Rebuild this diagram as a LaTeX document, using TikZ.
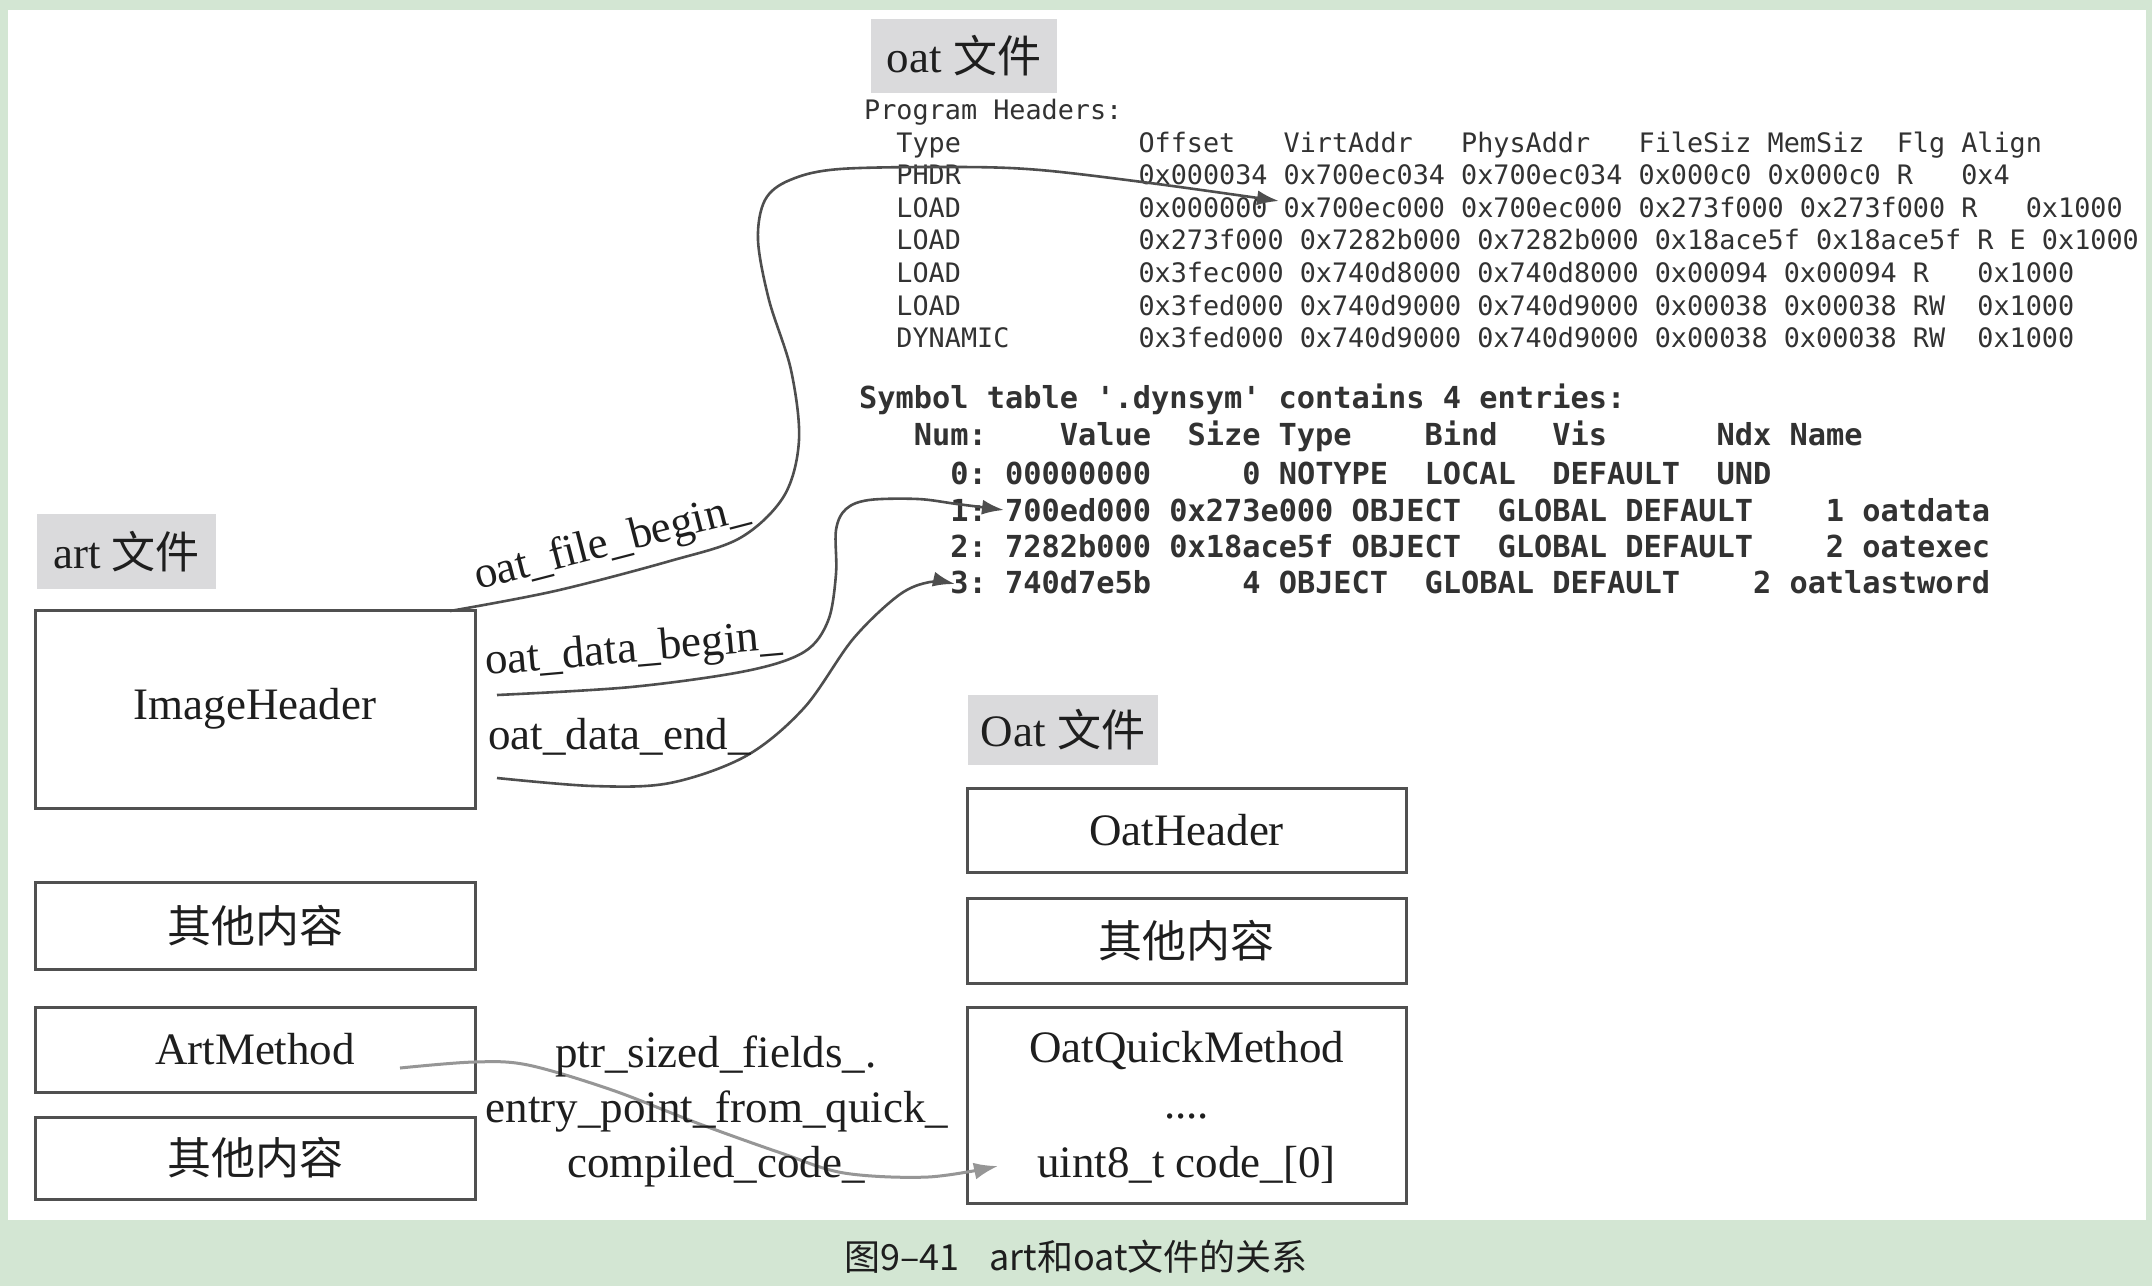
\documentclass[tikz,border=0pt]{standalone}
\usepackage{fontspec}
\setmainfont{Liberation Serif}
\setmonofont{DejaVu Sans Mono}
\newfontfamily\cjk{Noto Sans CJK SC}
\usetikzlibrary{arrows.meta}
\definecolor{bggreen}{RGB}{211,230,211}
\definecolor{lblgray}{RGB}{218,218,220}
\definecolor{boxc}{RGB}{80,80,80}
\definecolor{curvec}{RGB}{78,78,78}
\definecolor{lcurvec}{RGB}{150,150,150}
\definecolor{txtc}{RGB}{30,30,30}
\definecolor{monoc}{RGB}{50,50,50}
\newcommand\lblfont{\fontsize{45}{54}\selectfont}
\tikzset{
  box/.style={draw=boxc, line width=3pt, inner sep=0pt, fill=white, text=txtc, font=\lblfont},
  glbl/.style={fill=lblgray, inner sep=0pt, text=txtc, font=\lblfont},
  lbl/.style={inner sep=0pt, text=txtc, font=\lblfont},
  conn/.style={draw=curvec, line width=2.6pt, -{Latex[length=22pt,width=15pt]}},
  lconn/.style={draw=lcurvec, line width=3pt, -{Latex[length=24pt,width=17pt]}},
  monoA/.style={anchor=base west, inner sep=0pt, text=monoc, font=\ttfamily\fontsize{26.8}{30}\selectfont},
  monoB/.style={anchor=base west, inner sep=0pt, text=monoc, font=\ttfamily\bfseries\fontsize{30.3}{34}\selectfont},
}
\begin{document}
\begin{tikzpicture}[x=1pt,y=-1pt]
% background
\fill[bggreen] (0,0) rectangle (2152,1286);
\fill[white] (8,10) rectangle (2146,1220);

% gray labels
\node[glbl, minimum width=179pt, minimum height=75pt] (artlbl) at (126.5,551.5) {art {\cjk\fontsize{44}{50}\selectfont 文件}};
\node[glbl, minimum width=186pt, minimum height=74pt] (oatlbl) at (964,56) {oat {\cjk\fontsize{44}{50}\selectfont 文件}};
\node[glbl, minimum width=190pt, minimum height=70pt] (Oatlbl) at (1063,730) {Oat {\cjk\fontsize{44}{50}\selectfont 文件}};

% left boxes
\node[box, minimum width=440pt, minimum height=198pt] (ih) at (255,709) {ImageHeader};
\node[box, minimum width=440pt, minimum height=87pt] (other1) at (255,925.5) {\cjk\fontsize{44}{50}\selectfont 其他内容};
\node[box, minimum width=440pt, minimum height=85pt] (am) at (255,1049.5) {ArtMethod};
\node[box, minimum width=440pt, minimum height=82pt] (other2) at (255,1158) {\cjk\fontsize{44}{50}\selectfont 其他内容};

% right boxes
\node[box, minimum width=439pt, minimum height=84pt] (oh) at (1186.5,830) {OatHeader};
\node[box, minimum width=439pt, minimum height=85pt] (other3) at (1186.5,940.5) {\cjk\fontsize{44}{50}\selectfont 其他内容};
\node[box, minimum width=439pt, minimum height=196pt] (oqm) at (1186.5,1105) {};
\node[lbl, anchor=base] (oqmt) at (1186.5,1062) {OatQuickMethod};
\node[lbl, anchor=base] (oqmd) at (1186.5,1118) {....};
\node[lbl, anchor=base] (oqmc) at (1186.5,1177) {uint8\_t code\_[0]};

% program headers
\node[monoA] (ph0) at (864,119.5) {Program~Headers:};
\node[monoA] (ph1) at (864,152.1) {~~Type~~~~~~~~~~~Offset~~~VirtAddr~~~PhysAddr~~~FileSiz~MemSiz~~Flg~Align};
\node[monoA] (ph2) at (864,184.7) {~~PHDR~~~~~~~~~~~0x000034~0x700ec034~0x700ec034~0x000c0~0x000c0~R~~~0x4};
\node[monoA] (ph3) at (864,217.3) {~~LOAD~~~~~~~~~~~0x000000~0x700ec000~0x700ec000~0x273f000~0x273f000~R~~~0x1000};
\node[monoA] (ph4) at (864,249.9) {~~LOAD~~~~~~~~~~~0x273f000~0x7282b000~0x7282b000~0x18ace5f~0x18ace5f~R~E~0x1000};
\node[monoA] (ph5) at (864,282.5) {~~LOAD~~~~~~~~~~~0x3fec000~0x740d8000~0x740d8000~0x00094~0x00094~R~~~0x1000};
\node[monoA] (ph6) at (864,315.1) {~~LOAD~~~~~~~~~~~0x3fed000~0x740d9000~0x740d9000~0x00038~0x00038~RW~~0x1000};
\node[monoA] (ph7) at (864,347.7) {~~DYNAMIC~~~~~~~~0x3fed000~0x740d9000~0x740d9000~0x00038~0x00038~RW~~0x1000};

% symbol table
\node[monoB] (s0) at (859,408) {Symbol~table~'.dynsym'~contains~4~entries:};
\node[monoB] (s1) at (859,445) {~~~Num:~~~~Value~~Size~Type~~~~Bind~~~Vis~~~~~~Ndx~Name};
\node[monoB] (s2) at (859,484) {~~~~~0:~00000000~~~~~0~NOTYPE~~LOCAL~~DEFAULT~~UND};
\node[monoB] (s3) at (859,521) {~~~~~1:~700ed000~0x273e000~OBJECT~~GLOBAL~DEFAULT~~~~1~oatdata};
\node[monoB] (s4) at (859,557) {~~~~~2:~7282b000~0x18ace5f~OBJECT~~GLOBAL~DEFAULT~~~~2~oatexec};
\node[monoB] (s5) at (859,593) {~~~~~3:~740d7e5b~~~~~4~OBJECT~~GLOBAL~DEFAULT~~~~2~oatlastword};

% connector end points
\coordinate (c1s) at (450,611);
\coordinate (c1e) at (1279,201);
\coordinate (c2s) at (497,695);
\coordinate (c2e) at (1004,510);
\coordinate (c3s) at (497,778);
\coordinate (c3e) at (955,584);
\coordinate (c4s) at (400,1068);
\coordinate (c4e) at (998,1166);

% connectors
\draw[lconn] plot[smooth, tension=0.55] coordinates {(c4s) (474,1062) (528,1065) (612,1090) (697,1123) (781,1153) (844,1173) (928,1177) (c4e)};
\draw[conn] plot[smooth, tension=0.55] coordinates {(c1s) (555,591) (670,561) (740,538) (784,496) (799,440) (791,370) (769,300) (758,240) (765,200) (790,180) (840,169) (960,167) (1040,170) (1150,183) (c1e)};
\draw[conn] plot[smooth, tension=0.55] coordinates {(c2s) (631,687) (746,671) (804,652) (828,621) (836,574) (836,530) (846,509) (869,500) (918,499) (957,504) (c2e)};
\draw[conn] plot[smooth, tension=0.55] coordinates {(c3s) (593,786) (670,783) (746,756) (804,708) (853,639) (899,595) (930,582) (c3e)};

% connector labels
\node[lbl, anchor=base west, rotate=14.5] (lfb) at (478,590) {oat\_file\_begin\_};
\node[lbl, anchor=base west, rotate=5] (ldb) at (486,675) {oat\_data\_begin\_};
\node[lbl, anchor=base west] (lde) at (488,749) {oat\_data\_end\_};
\node[lbl, anchor=base] (lp1) at (716,1067) {ptr\_sized\_fields\_.};
\node[lbl, anchor=base] (lp2) at (717,1122) {entry\_point\_from\_quick\_};
\node[lbl, anchor=base] (lp3) at (716,1177) {compiled\_code\_};

% caption
\node[inner sep=0pt, anchor=base, text=txtc, font=\cjk\fontsize{36}{40}\selectfont] (cap) at (1076,1270) {图9–41\hspace{30pt}art和oat文件的关系};
\end{tikzpicture}
\end{document}
